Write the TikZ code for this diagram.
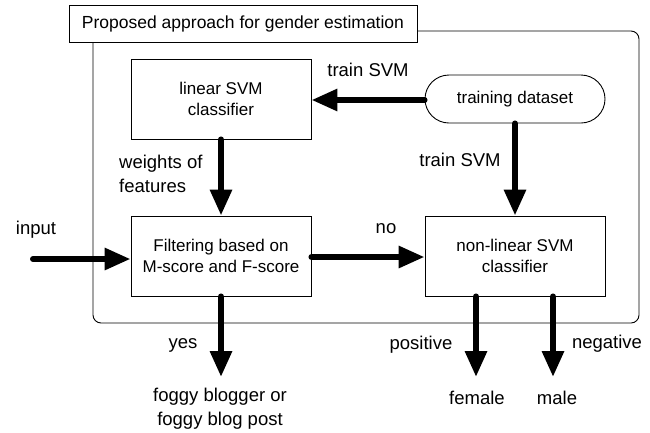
\documentclass[tikz,border=0pt]{standalone}
\usepackage{fontspec}
\setmainfont{Liberation Sans}
\usetikzlibrary{arrows.meta,shapes.misc}
\begin{document}
\begin{tikzpicture}[x=1pt,y=-1pt,
  boxtext/.style={font=\fontsize{17}{20.5}\selectfont},
  procbox/.style={draw,line width=0.9pt,minimum width=180pt,minimum height=80pt,align=center,inner sep=0pt,boxtext},
  lab/.style={font=\fontsize{18.5}{24}\selectfont,inner sep=0pt,align=left},
  bigarrow/.style={line width=6pt,line cap=round,-{Triangle[width=21pt,length=26pt]}}]
\useasboundingbox (0,0) rectangle (650,432);
% outer frame
\draw[line width=0.9pt,rounded corners=8pt] (93,31) rectangle (639,323);
\node[draw,fill=white,line width=0.9pt,minimum width=348pt,minimum height=37pt,inner sep=0pt,font=\fontsize{17.5}{21}\selectfont] (title) at (243,23.5) {Proposed approach for gender estimation};
% nodes
\node[procbox] (lin) at (221,99) {linear SVM\\classifier};
\node[draw,line width=0.9pt,rounded rectangle,minimum width=180pt,minimum height=48pt,inner sep=0pt,boxtext] (train) at (515,99) {training dataset};
\node[procbox] (filt) at (221,256) {Filtering based on\\M-score and F-score};
\node[procbox] (nl) at (515,256) {non-linear SVM\\classifier};
% free ends
\coordinate (in) at (33,259);
\coordinate (yesend) at (221,377);
\coordinate (fem) at (476,377);
\coordinate (mal) at (553,377);
% arrows
\draw[bigarrow] (train.west |- 0,100) -- (lin.east |- 0,100);
\draw[bigarrow] (train.south) -- (nl.north);
\draw[bigarrow] (lin.south) -- (filt.north);
\draw[bigarrow] (in) -- (in -| filt.west);
\draw[bigarrow] (filt.east |- 0,257) -- (nl.west |- 0,257);
\draw[bigarrow] (filt.south) -- (yesend);
\draw[bigarrow] (fem |- nl.south) -- (fem);
\draw[bigarrow] (mal |- nl.south) -- (mal);
% labels
\node[lab] (ltrain1) at (368,70) {train SVM};
\node[lab] (ltrain2) at (460,160) {train SVM};
\node[lab,anchor=west] (lweights) at (119,174) {weights of\\features};
\node[lab] (linput) at (36,230) {input};
\node[lab] (lno) at (386,229) {no};
\node[lab] (lyes) at (183,345) {yes};
\node[lab,align=center] (lfoggy) at (220,409) {foggy blogger or\\foggy blog post};
\node[lab] (lpos) at (421,345) {positive};
\node[lab] (lneg) at (607,344) {negative};
\node[lab] (lfem) at (477,398) {female};
\node[lab] (lmal) at (557,398) {male};
\end{tikzpicture}
\end{document}
